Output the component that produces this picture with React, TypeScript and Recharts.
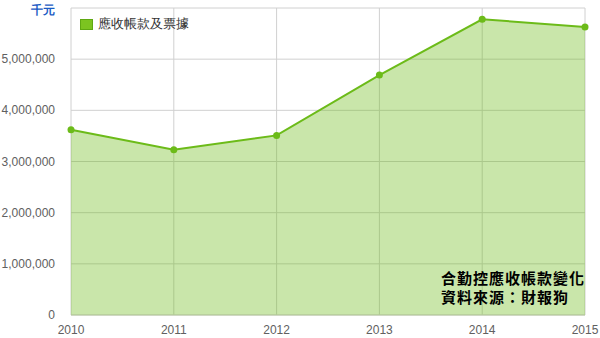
import { Area, AreaChart, CartesianGrid, XAxis, YAxis } from "recharts";

const years = [2010, 2011, 2012, 2013, 2014, 2015];
const receivables = [3620000, 3230000, 3510000, 4690000, 5780000, 5630000];
const yTicks = [0, 1000000, 2000000, 3000000, 4000000, 5000000, 6000000];
const seriesName = "應收帳款及票據";
const noteLines = ["合勤控應收帳款變化", "資料來源：財報狗"];

const data = years.map((y, i) => ({ year: y, value: receivables[i] }));

const GREEN = "#6cbb19";
const FONT = "'Liberation Sans', Arial, sans-serif";

function YTick(props: any) {
  const { x, y, payload } = props;
  if (payload.value === 6000000) {
    return (
      <text x={x - 8} y={y + 5} textAnchor="end" fontSize={12} fontWeight={700} fill="#1a5bc4" fontFamily={FONT}>
        千元
      </text>
    );
  }
  return (
    <text x={x - 8} y={y + 4} textAnchor="end" fontSize={12} fill="#606060" fontFamily={FONT}>
      {payload.value.toLocaleString("en-US")}
    </text>
  );
}

export default function App() {
  return (
    <div style={{ position: "absolute", left: 0, top: 0, width: 600, height: 338, background: "#fff" }}>
      <AreaChart width={600} height={338} data={data} margin={{ top: 8, right: 15, left: 0, bottom: 0 }}>
        <CartesianGrid stroke="#d0d0d0" />
        <XAxis
          dataKey="year"
          type="number"
          domain={[2010, 2015]}
          ticks={years}
          height={23}
          tickLine={false}
          axisLine={{ stroke: "#b8c8a0" }}
          tick={{ fontSize: 12, fill: "#606060", fontFamily: FONT }}
          tickMargin={4}
        />
        <YAxis
          width={71}
          domain={[0, 6000000]}
          ticks={yTicks}
          axisLine={false}
          tickLine={false}
          tick={<YTick />}
        />
        <Area
          dataKey="value"
          name={seriesName}
          type="linear"
          stroke={GREEN}
          strokeWidth={2}
          fill={GREEN}
          fillOpacity={0.37}
          dot={{ r: 3.5, fill: GREEN, fillOpacity: 1, stroke: GREEN, strokeWidth: 0 }}
          isAnimationActive={false}
        />
      </AreaChart>
      <div
        style={{
          position: "absolute",
          left: 80,
          top: 15,
          display: "flex",
          alignItems: "center",
          fontFamily: FONT,
          fontSize: 13,
          color: "#333",
        }}
      >
        <span style={{ width: 11, height: 9, background: "#7cc420", border: "1px solid #5fa812", marginRight: 5 }} />
        {seriesName}
      </div>
      <div
        style={{
          position: "absolute",
          left: 441,
          top: 268,
          fontFamily: "'Noto Sans CJK TC', sans-serif",
          fontWeight: 700,
          fontSize: 15,
          lineHeight: "19px",
          letterSpacing: 1,
          color: "#000",
        }}
      >
        {noteLines.map((l) => (
          <div key={l}>{l}</div>
        ))}
      </div>
    </div>
  );
}
